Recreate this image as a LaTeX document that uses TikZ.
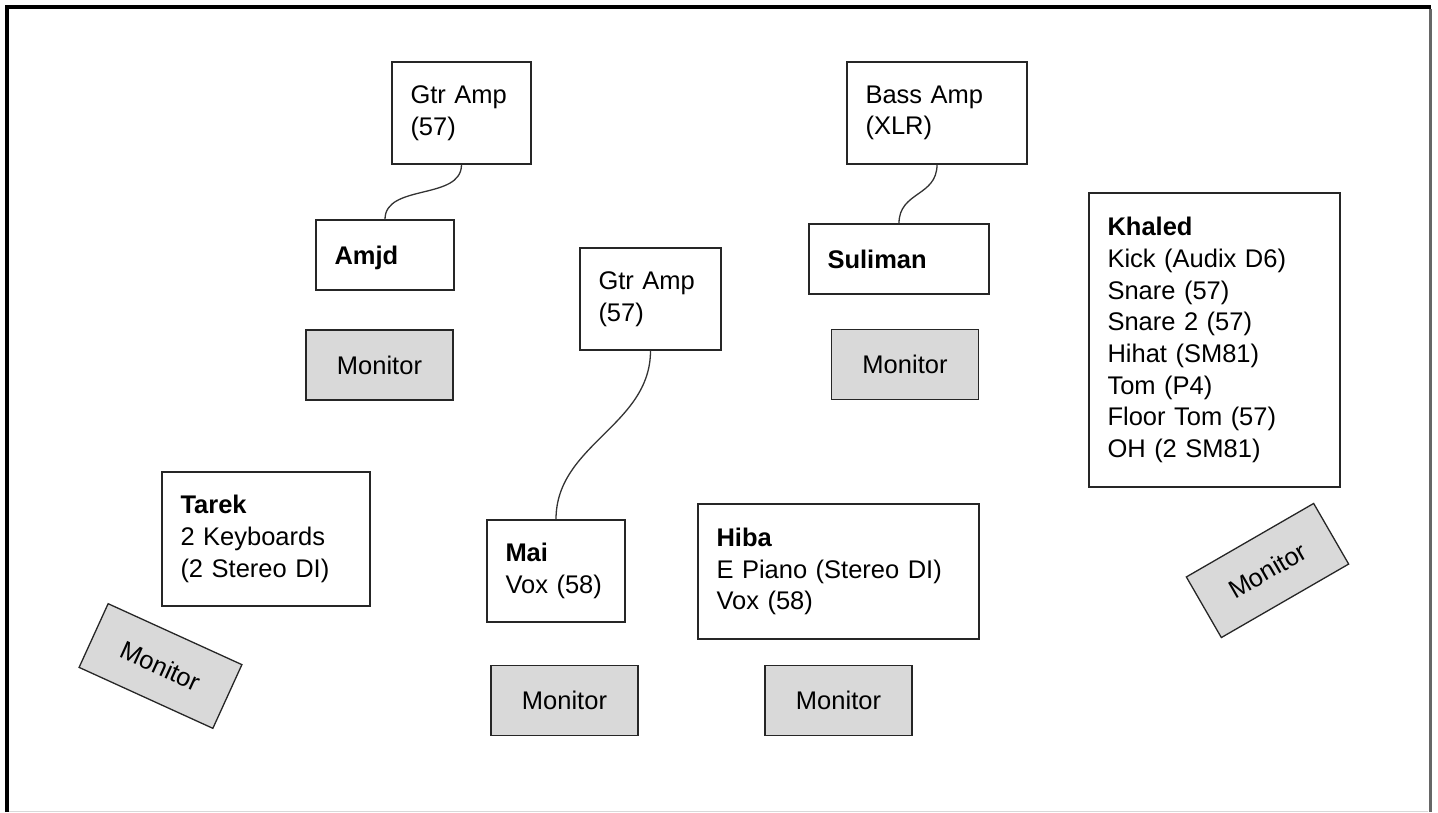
\documentclass[tikz,border=0pt]{standalone}
\usepackage{fontspec}
\setmainfont{Liberation Sans}
\usetikzlibrary{positioning}
\definecolor{mongray}{HTML}{D9D9D9}

\begin{document}
\begin{tikzpicture}[
  x=1pt, y=-1pt,
  every node/.style={font=\fontsize{25.5}{31.7}\selectfont},
  pnode/.style={draw=black!85, line width=1.3pt, align=left, inner xsep=18.5pt, inner ysep=0pt},
  mnode/.style={draw=black!85, fill=mongray, line width=1.3pt, minimum width=147pt, minimum height=70pt, inner sep=0pt},
  cable/.style={line width=1.3pt, draw=black!80}
  ]

\useasboundingbox (0,0) rectangle (1438,812);

% frame
\draw [line width=4pt] (7,812) -- (7,7) -- (1431,7);
\draw [line width=3pt, black!60] (1430,9) -- (1430,812);
\draw [line width=1pt, black!15] (9,811.5) -- (1428,811.5);

% amps
\node [pnode, text width=102pt, minimum height=102pt] (gtra) at (461.5,113) {Gtr Amp\\(57)};
\node [pnode, text width=143pt, minimum height=102pt] (bass) at (937,113) {Bass Amp\\(XLR)};
\node [pnode, text width=104pt, minimum height=102pt] (gtrb) at (650.5,299) {Gtr Amp\\(57)};

% players
\node [pnode, text width=101pt, minimum height=70pt, text depth=0pt] (amjd) at (385,255) {\textbf{Amjd}};
\node [pnode, text width=143pt, minimum height=70pt] (sul) at (899,259) {\textbf{Suliman}};
\node [pnode, text width=214pt, minimum height=294pt] (khaled) at (1214.5,340) {\textbf{Khaled}\\Kick (Audix D6)\\Snare (57)\\Snare 2 (57)\\Hihat (SM81)\\Tom (P4)\\Floor Tom (57)\\OH (2 SM81)};
\node [pnode, text width=171pt, minimum height=134pt] (tarek) at (266,539) {\textbf{Tarek}\\2 Keyboards\\(2 Stereo DI)};
\node [pnode, text width=101pt, minimum height=102pt] (mai) at (556,571) {\textbf{Mai}\\Vox (58)};
\node [pnode, text width=244pt, minimum height=135pt] (hiba) at (838.5,571.5) {\textbf{Hiba}\\E Piano (Stereo DI)\\Vox (58)};

% monitors
\node [mnode] (mona) at (379.5,365) {Monitor};
\node [mnode, below=34pt of sul, xshift=6pt] (mons) {Monitor};
\node [mnode, rotate=30] (monk) at (1267.5,570.5) {Monitor};
\node [mnode, rotate=-24.5] (mont) at (160.5,666) {Monitor};
\node [mnode, below=42pt of mai, xshift=8.5pt] (monm) {Monitor};
\node [mnode, below=25pt of hiba] (monh) {Monitor};

% cables
\draw [cable] (gtra.south) .. controls +(0,36) and +(0,-36) .. (amjd.north);
\draw [cable] (bass.south) .. controls +(0,32) and +(0,-32) .. (sul.north);
\draw [cable] (gtrb.south) .. controls +(0,75) and +(0,-75) .. (mai.north);

\end{tikzpicture}
\end{document}
